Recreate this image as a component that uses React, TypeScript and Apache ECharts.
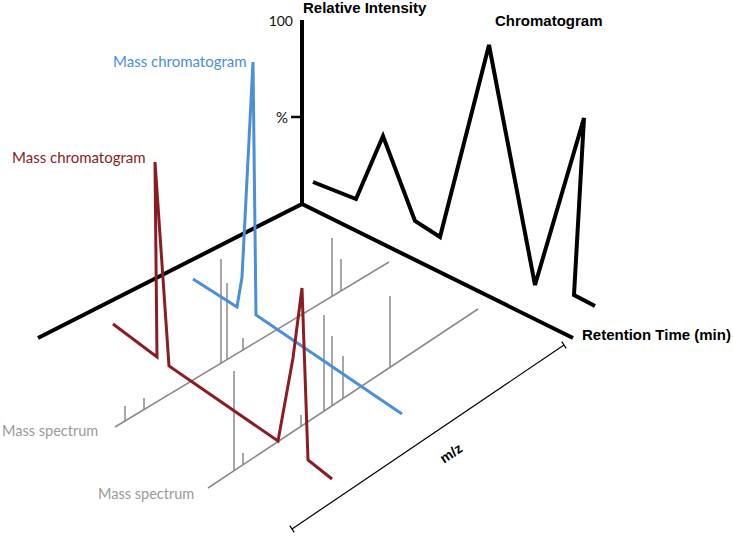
import React, { useEffect, useRef } from "react";
import * as echarts from "echarts";

const W = 733;
const H = 537;

// Frame / axes (diagram coordinates, y downward)
const intensityAxis = [[302, 20], [302, 205]];
const percentTick = [[291, 117], [302, 117]];
const floorAxes = [[38, 338], [302, 204], [573, 338]];
const mzBracket = [[292, 529], [564, 345]];
const mzBracketEnds = [
  [[289.8, 525.7], [294.2, 532.3]],
  [[561.8, 341.7], [566.2, 348.3]],
];

// Total ion chromatogram (black)
const chromatogram = [
  [313, 182], [356, 199], [383, 136], [415, 221], [440, 237],
  [489, 45], [535, 285], [584, 118], [574, 295], [595, 306],
];

// Mass chromatograms
const blueXic = [[193, 279], [237, 307], [242, 277], [253, 62], [256, 315], [402, 414]];
const redXic = [
  [113, 324], [157, 357], [155, 162], [169, 366], [278, 441],
  [293, 358], [302, 288], [308, 460], [332, 479],
];

// Mass spectra baselines and peaks: [x, baseY, topY]
const spectrumBase1 = [[115, 427], [389, 262]];
const spectrumBase2 = [[208, 488], [478, 309]];
const spectrum1Peaks = [
  [125, 421, 406], [144, 410, 398], [221, 363, 259], [227, 359, 283],
  [243, 350, 338], [332, 296, 238], [341, 291, 259],
];
const spectrum2Peaks = [
  [234, 471, 371], [243, 465, 453], [301, 426, 415], [324, 411, 315],
  [332, 406, 336], [343, 398, 356], [390, 367, 296],
];

const BLUE = "#4a8fdc";
const RED = "#8b1c24";
const GRAY = "#8a8a8a";
const GRAY_TEXT = "#9a9a9a";

const lineSeries = (data: number[][], color: string, width: number, z = 2) => ({
  type: "line",
  data,
  showSymbol: false,
  symbol: "none",
  silent: true,
  z,
  lineStyle: { color, width, join: "miter", cap: "butt" },
});

export default function App() {
  const ref = useRef<HTMLDivElement>(null);
  useEffect(() => {
    if (!ref.current) return;
    const chart = echarts.init(ref.current, undefined, { renderer: "svg" });
    const boldFont = "Liberation Sans";
    const regFont = "Lato";
    const txt = (
      text: string, x: number, y: number, fill: string, size: number,
      weight: string, family: string, align = "left", rotation = 0
    ) => ({
      type: "text",
      x, y, rotation,
      z: 10,
      style: {
        text, fill, fontSize: size, fontWeight: weight, fontFamily: family,
        textAlign: align, textVerticalAlign: "middle",
      },
    });
    chart.setOption({
      animation: false,
      grid: { left: 0, right: 0, top: 0, bottom: 0, containLabel: false },
      xAxis: { type: "value", min: 0, max: W, show: false },
      yAxis: { type: "value", min: 0, max: H, inverse: true, show: false },
      series: [
        lineSeries(spectrumBase1, GRAY, 1.5, 1),
        lineSeries(spectrumBase2, GRAY, 1.5, 1),
        {
          type: "lines",
          coordinateSystem: "cartesian2d",
          silent: true,
          z: 1,
          lineStyle: { color: GRAY, width: 1.5, opacity: 1 },
          data: [...spectrum1Peaks, ...spectrum2Peaks].map(([x, b, t]) => ({
            coords: [[x, b], [x, t]],
          })),
        },
        {
          type: "lines",
          coordinateSystem: "cartesian2d",
          silent: true,
          z: 1,
          lineStyle: { color: "#000", width: 1.2, opacity: 1 },
          data: [mzBracket, ...mzBracketEnds].map((c) => ({ coords: c })),
        },
        lineSeries(floorAxes, "#000", 4, 2),
        lineSeries(intensityAxis, "#000", 4, 2),
        lineSeries(percentTick, "#000", 2.5, 2),
        lineSeries(chromatogram, "#000", 4, 2),
        lineSeries(blueXic, BLUE, 3, 3),
        lineSeries(redXic, RED, 3, 3),
      ],
      graphic: [
        txt("Relative Intensity", 303, 7, "#000", 15, "bold", boldFont),
        txt("Chromatogram", 495, 20, "#000", 15, "bold", boldFont),
        txt("100", 293, 20, "#111", 14, "normal", regFont, "right"),
        txt("%", 288, 117, "#111", 15, "normal", regFont, "right"),
        txt("Mass chromatogram", 113, 61, BLUE, 15, "normal", regFont),
        txt("Mass chromatogram", 12, 157, RED, 15, "normal", regFont),
        txt("Mass spectrum", 2, 430, GRAY_TEXT, 14.5, "normal", regFont),
        txt("Mass spectrum", 98, 493, GRAY_TEXT, 14.5, "normal", regFont),
        txt("Retention Time (min)", 582, 334, "#000", 15, "bold", boldFont),
        txt("m/z", 451, 453, "#000", 14, "bold", boldFont, "center", 0.59),
      ],
    });
    return () => chart.dispose();
  }, []);
  return (
    <div
      ref={ref}
      style={{ position: "absolute", left: 0, top: 0, width: W, height: H, background: "#fff" }}
    />
  );
}
